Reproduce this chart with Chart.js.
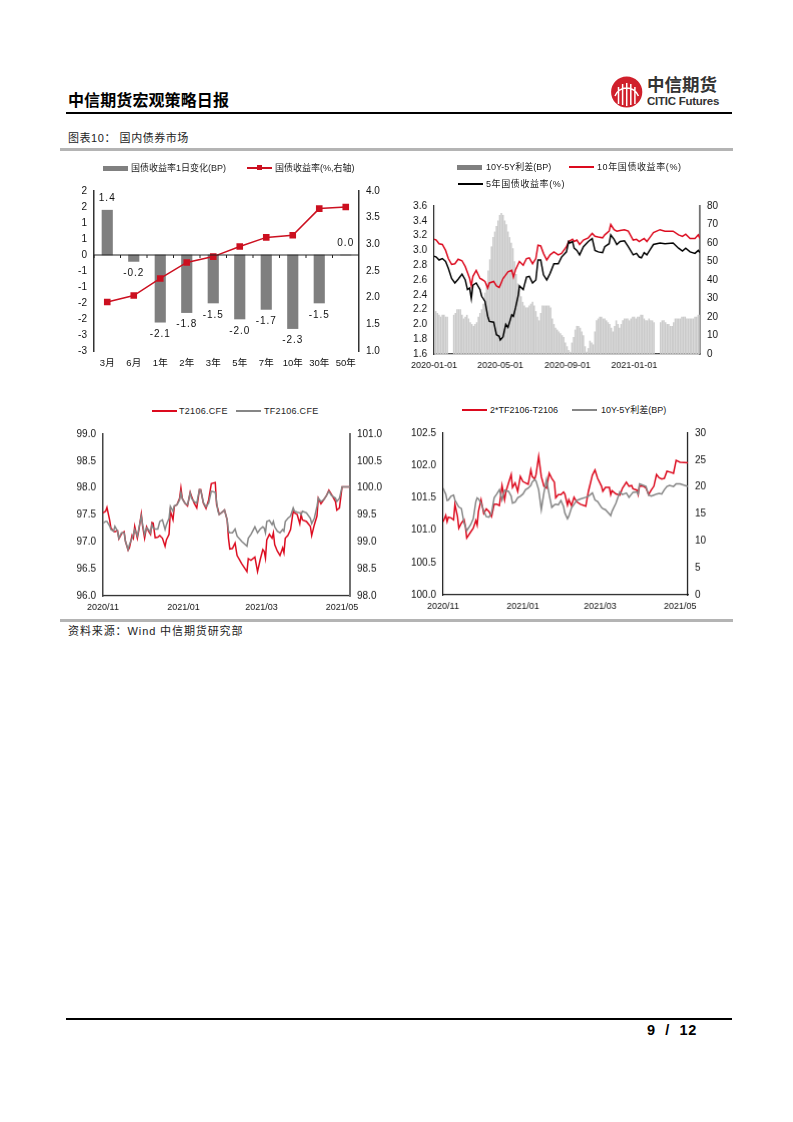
<!DOCTYPE html>
<html lang="zh">
<head>
<meta charset="utf-8">
<title>中信期货宏观策略日报</title>
<script src="https://cdn.jsdelivr.net/npm/chart.js@4"></script>
<style>
  html, body { margin: 0; padding: 0; background: #fff; }
  body { position: relative; width: 793px; height: 1122px; overflow: hidden;
         font-family: "Liberation Sans", "Noto Sans CJK SC", sans-serif; color: #000; }
  .abs { position: absolute; white-space: nowrap; }
  .rule { position: absolute; }
  canvas { position: absolute; }
  .lg { position: absolute; font-size: 9px; line-height: 12px; color: #222; white-space: nowrap; }
</style>
</head>
<body>
<div class="abs" style="left:68px;top:91px;font-size:16px;line-height:20px;font-weight:700;letter-spacing:.1px;">中信期货宏观策略日报</div>
<svg class="abs" style="left:609px;top:74px" width="36" height="36" viewBox="0 0 36 36">
  <circle cx="17.7" cy="18" r="15.6" fill="#d0202c"/>
  <path d="M6 22 A12.5 12.5 0 0 1 29.4 22 M9.5 13 V30 M25.9 13 V30 M13.6 10 V31 M21.8 10 V31 M17.7 9 V32" fill="none" stroke="#fff" stroke-width="1.5"/>
</svg>
<div class="abs" style="left:647px;top:74px;font-size:17.5px;line-height:22px;font-weight:700;color:#333;">中信期货</div>
<div class="abs" style="left:647px;top:95px;font-size:11.5px;line-height:13px;font-weight:700;color:#333;letter-spacing:-.25px;">CITIC Futures</div>
<div class="rule" style="left:66px;top:112px;width:666px;height:2px;background:#000;"></div>
<div class="abs" style="left:68px;top:131px;font-size:11px;line-height:14px;color:#222;letter-spacing:.55px;">图表10： 国内债券市场</div>
<div class="rule" style="left:60px;top:148px;width:673px;height:3px;background:#b4b4b4;"></div>
<div class="rule" style="left:60px;top:619px;width:673px;height:3px;background:#b4b4b4;"></div>
<div class="abs" style="left:68px;top:624px;font-size:11px;line-height:14px;color:#222;letter-spacing:.9px;">资料来源：Wind 中信期货研究部</div>
<div class="rule" style="left:66px;top:1018px;width:666px;height:2px;background:#000;"></div>
<div class="abs" style="left:647px;top:1022px;font-size:14.5px;line-height:17px;font-weight:700;word-spacing:5px;letter-spacing:.6px;">9 / 12</div>

<script>
// chart 1: yield curve
const tenors = ["3月", "6月", "1年", "2年", "3年", "5年", "7年", "10年", "30年", "50年"];
const yieldChange = [1.4, -0.2, -2.1, -1.8, -1.5, -2.0, -1.7, -2.3, -1.5, 0.0];
const yieldLevel = [1.92, 2.04, 2.36, 2.66, 2.77, 2.96, 3.13, 3.17, 3.67, 3.70];

// chart 2: 10y / 5y yields, x is days since 2020-01-01
const yieldDays = [0,4,9,15,21,26,32,38,44,51,57,61,65,68,71,77,84,87,93,98,101,109,114,119,121,126,131,135,142,145,149,154,156,163,169,174,180,186,190,195,200,206,212,219,227,233,242,246,
  248,253,256,261,266,273,282,289,294,300,308,312,320,323,329,334,340,348,355,364,370,375,379,384,389,395,401,413,422,437,447,454,460,468,477,483,486];
const tenYear = [3.15,3.14,3.09,3.08,3.00,2.89,2.81,2.82,2.88,2.86,2.78,2.70,2.62,2.52,2.65,2.73,2.62,2.61,2.58,2.49,2.56,2.58,2.52,2.50,2.53,2.62,2.67,2.71,2.73,2.64,2.74,2.82,2.85,2.80,2.89,2.90,2.82,2.89,3.07,3.06,2.96,2.87,2.94,2.98,2.94,2.96,3.05,3.12,
  3.13,3.15,3.12,3.14,3.08,3.14,3.17,3.23,3.19,3.18,3.17,3.21,3.26,3.35,3.28,3.26,3.27,3.28,3.26,3.14,3.15,3.12,3.14,3.16,3.12,3.18,3.24,3.28,3.26,3.26,3.21,3.19,3.22,3.16,3.16,3.21,3.16];
const fiveYear = [2.92,2.91,2.87,2.89,2.85,2.76,2.62,2.56,2.61,2.68,2.60,2.47,2.49,2.35,2.53,2.56,2.47,2.38,2.31,2.11,2.04,2.03,1.86,1.84,1.79,1.83,2.00,1.96,2.13,2.11,2.23,2.40,2.52,2.47,2.64,2.65,2.56,2.60,2.87,2.87,2.67,2.60,2.69,2.82,2.82,2.91,2.98,3.12,
  3.10,3.12,3.03,3.00,2.94,3.05,3.12,3.16,3.00,2.98,2.97,3.05,3.09,3.21,3.15,3.08,3.12,3.13,3.05,2.94,2.96,2.91,2.90,2.97,2.94,3.01,3.08,3.10,3.09,3.10,3.03,2.99,3.03,2.98,2.96,3.00,2.97];
// spread read every 3 days from 2020-01-01
const spreadBp = [23,23,22,21,20,21,21,20,20,0,0,0,21,22,24,24,24,21,19,20,21,19,17,16,15,16,17,20,22,24,27,33,38,45,51,58,63,66,69,72,75,76,75,72,70,66,63,60,57,50,43,38,35,31,28,26,25,25,26,27,28,26,23,20,18,22,26,26,26,26,26,25,19,16,14,13,12,11,10,9,6,4,2,1,6,9,13,15,15,14,12,10,4,1,3,7,6,5,12,18,19,20,20,19,19,18,17,16,14,12,15,18,16,14,16,18,19,19,19,18,19,20,20,19,20,20,21,21,19,18,18,19,18,18,17,0,0,0,17,18,18,17,16,16,15,15,17,19,19,19,19,20,20,20,19,19,19,19,19,20,20,21,21];

// chart 3: futures prices, x is days since 2020-11-01
const t2106Days = [0,2,3,5,6,8,9,11,12,14,16,17,19,20,22,23,24,26,27,29,30,31.5,33,34.5,36,37,38,39.5,41.5,43,45,47,48,50,51,53,54,56,58,59,60,62,64,66,67,69,71,73,74,76,78,80,82,85,86,87,88,90,92,94,95,96,
  98,100,101.5,105,109,110,112,115,117,119,121,122,123,124,126,128,129,130,132,134,136,137,138,140,142,144,145,147,149,150,151,154,157,158,160,162,163,165,167,169,171,173,176,177,179,181,187];
const t2106 = [97.54,97.57,97.64,97.41,97.26,97.20,97.19,97.21,97.06,97.15,97.19,97.01,96.85,96.89,97.12,97.07,97.29,97.07,97.20,97.52,97.29,97.07,97.28,97.20,97.14,97.36,97.35,97.08,97.09,97.12,97.07,96.92,97.04,97.14,97.57,97.41,97.66,97.69,97.81,98.00,97.81,97.72,97.67,97.92,97.85,97.72,97.63,97.97,97.97,97.72,97.62,97.78,98.08,98.10,97.69,97.61,97.51,97.55,97.59,97.41,97.07,96.87,
  96.88,96.98,96.75,96.60,96.45,96.69,96.66,96.72,96.45,96.67,96.86,96.83,96.70,97.04,97.14,97.07,97.17,96.95,96.83,96.75,96.89,96.80,97.07,97.12,97.23,97.57,97.54,97.51,97.34,97.51,97.41,97.38,97.29,97.12,97.32,97.48,97.81,97.71,97.78,97.85,97.96,97.88,97.75,97.59,97.63,98.02,98.02];
const tf2106 = [99.35,99.38,99.38,99.30,99.23,99.20,99.29,99.20,99.07,99.17,99.17,99.01,98.86,98.95,99.07,99.14,99.23,99.11,99.23,99.48,99.32,99.14,99.26,99.23,99.17,99.32,99.26,99.24,99.24,99.38,99.41,99.23,99.32,99.44,99.66,99.57,99.67,99.69,99.78,99.92,99.80,99.72,99.69,99.91,99.81,99.75,99.72,99.97,99.96,99.73,99.65,99.72,99.94,99.92,99.75,99.57,99.51,99.55,99.59,99.41,99.20,99.17,
  99.17,99.24,99.11,99.01,98.92,99.07,99.14,99.28,99.17,99.24,99.28,99.26,99.17,99.38,99.40,99.32,99.38,99.28,99.20,99.17,99.23,99.20,99.38,99.44,99.48,99.63,99.57,99.55,99.54,99.51,99.57,99.54,99.44,99.34,99.44,99.66,99.81,99.75,99.78,99.85,99.94,99.86,99.81,99.75,99.81,100.02,100.02];

// chart 4: basis vs spread
const basisDays = [0,1,2,3,4,6,8,9,11,12,14,16,17,18,21,23,25,26,27,29,31,33,35,37,39,41,43,45,47,48,50,52,53,55,57,59,61,63,65,67,68,70,71,73,75,77,79,81,83,85,86,88,90,92,
  93,95,96,98,100,102,105,109,111,114,116,118,121,122,124,127,128,129,132,135,137,140,142,144,145,148,149,150,153,155,157,159,161,163,165,167,169,171,173,176,178,181,187];
const basis = [101.13,101.18,101.23,101.13,101.20,101.19,101.16,101.40,101.21,101.03,101.11,101.16,101.06,100.88,100.97,101.03,101.15,101.08,101.29,101.47,101.26,101.33,101.29,101.21,101.40,101.40,101.38,101.69,101.47,101.60,101.73,101.86,101.66,101.73,101.60,101.83,101.75,101.73,101.71,101.93,101.83,101.79,101.86,102.14,101.83,101.68,101.65,101.88,101.80,101.74,101.50,101.55,101.55,101.59,
  101.56,101.39,101.47,101.38,101.51,101.44,101.40,101.37,101.60,101.85,101.93,101.80,101.68,101.60,101.66,101.66,101.55,101.61,101.56,101.54,101.65,101.74,101.68,101.69,101.64,101.62,101.55,101.68,101.68,101.65,101.55,101.62,101.68,101.86,101.81,101.79,101.80,101.91,101.90,101.88,102.08,102.05,102.04];
const spreadLine = [19.8,19.2,18.7,17.5,17.6,18.3,18.5,17.6,16.7,16.3,16.0,13.3,12.7,11.9,13.0,14.1,17.3,18.0,17.8,17.0,15.6,14.5,14.4,15.2,18.0,18.7,19.5,17.6,19.4,19.3,19.2,18.3,17.0,17.2,18.0,18.3,18.7,19.5,19.8,20.3,20.9,21.4,21.1,19.5,15.8,18.9,21.4,18.6,16.2,16.7,16.8,16.7,17.5,16.4,
  15.2,14.1,14.6,16.1,16.8,17.5,17.8,18.1,18.3,18.9,17.6,17.3,16.2,16.0,15.8,15.0,14.7,15.5,17.0,19.1,18.6,18.9,18.1,18.7,19.0,19.1,18.7,20.6,20.3,20.1,18.5,18.3,18.5,18.7,18.8,18.7,19.5,20.1,20.3,20.1,20.6,20.6,20.1];

// date axis ticks
const yieldTickDays = [0, 121, 244, 366];
const yieldTickLabels = ["2020-01-01", "2020-05-01", "2020-09-01", "2021-01-01"];
const futTickDays = [0, 61, 120, 181];
const futTickLabels = ["2020/11", "2021/01", "2021/03", "2021/05"];

const FONT = '"Liberation Sans", "Noto Sans CJK SC", sans-serif';
const RED = "#dc0a1e";
const GREY = "#868686";

const pairs = (xs, ys) => ys.map((y, i) => ({ x: xs[i], y }));

// puts a canvas on the page so the plot area lands on the given box
function frame(l, t, r, b) {
  const left = l - 40, top = t - 12, right = r + 45, bottom = b + 28;
  const canvas = document.createElement("canvas");
  canvas.style.left = left + "px";
  canvas.style.top = top + "px";
  canvas.style.width = (right - left) + "px";
  canvas.style.height = (bottom - top) + "px";
  canvas.width = right - left;
  canvas.height = bottom - top;
  document.body.appendChild(canvas);
  return { canvas, ctx: canvas.getContext("2d"), yLeftW: l - left, yRightW: right - r, xH: bottom - b, padTop: t - top };
}

function yAxis(f, side, min, max, step, color, width, labelFn) {
  return {
    type: "linear", position: side, min, max,
    afterFit: s => { s.width = side === "left" ? f.yLeftW : f.yRightW; },
    border: { display: true, color, width },
    grid: { display: false, drawOnChartArea: false, drawTicks: true, tickLength: 4, tickColor: color },
    ticks: { stepSize: step, color: "#111", padding: 3, font: { family: FONT, size: 10 }, autoSkip: false, includeBounds: true, callback: labelFn || (v => v.toFixed(1)) }
  };
}

function dateAxis(f, min, max, tickDays, tickLabels) {
  return {
    type: "linear", min, max, offset: false,
    afterFit: s => { s.height = f.xH; },
    afterBuildTicks: s => { s.ticks = tickDays.map(value => ({ value })); },
    border: { display: true, color: "#222", width: 1.2 },
    grid: { display: false, offset: false, drawOnChartArea: false, drawTicks: true, tickLength: 4, tickColor: "#222" },
    ticks: { color: "#111", padding: 2, maxRotation: 0, autoSkip: false, font: { family: FONT, size: 9 },
      callback: v => tickLabels[tickDays.indexOf(v)] }
  };
}

function baseOptions(f, scales) {
  return {
    responsive: false, animation: false, events: [],
    layout: { padding: { top: f.padTop, left: 0, right: 0, bottom: 0 } },
    plugins: { legend: { display: false }, tooltip: { enabled: false } },
    scales
  };
}

function lineSet(label, data, color, axis, order) {
  return { type: "line", label, data, borderColor: color, backgroundColor: color, borderWidth: 1.5, pointRadius: 0, tension: 0, yAxisID: axis, order };
}

// chart 1
const f1 = frame(93.5, 190.7, 359.2, 351);
const halfRound = v => (v === 0 ? "0" : String(Math.sign(v) * Math.round(Math.abs(v))));
const barLabels = {
  id: "barLabels",
  afterDatasetsDraw(chart) {
    const { ctx } = chart;
    const bars = chart.getDatasetMeta(1).data;
    ctx.save();
    ctx.font = "10px " + FONT;
    ctx.fillStyle = "#111";
    ctx.textAlign = "center";
    ctx.textBaseline = "middle";
    ctx.letterSpacing = "1px";
    bars.forEach((bar, i) => {
      const v = yieldChange[i];
      ctx.fillText(v.toFixed(1), bar.x, bar.y + (v < 0 ? 12 : -12));
    });
    // zero line with its tick marks
    const x = chart.scales.x, y0 = chart.scales.y.getPixelForValue(0);
    ctx.strokeStyle = "#222";
    ctx.lineWidth = 1;
    ctx.beginPath();
    ctx.moveTo(x.left, y0); ctx.lineTo(x.right, y0);
    const cell = (x.right - x.left) / tenors.length;
    tenors.forEach((_, i) => { ctx.moveTo(x.left + cell * i, y0); ctx.lineTo(x.left + cell * i, y0 + 3); });
    ctx.stroke();
    ctx.restore();
  }
};
new Chart(f1.ctx, {
  data: {
    labels: tenors,
    datasets: [
      { type: "line", label: "国债收益率(%,右轴)", data: yieldLevel, borderColor: "#cc1020", backgroundColor: "#cc1020", borderWidth: 1.5,
        pointStyle: "rect", pointRadius: 3.6, tension: 0, yAxisID: "y2", order: 1 },
      { type: "bar", label: "国债收益率1日变化(BP)", data: yieldChange, backgroundColor: "#7f7f7f", barThickness: 10.5, yAxisID: "y", order: 2 }
    ]
  },
  options: baseOptions(f1, {
    x: { type: "category", offset: true, afterFit: s => { s.height = f1.xH; },
      border: { display: false }, grid: { display: false, drawTicks: false },
      ticks: { color: "#111", padding: 7, maxRotation: 0, autoSkip: false, font: { family: FONT, size: 9.5 } } },
    y: yAxis(f1, "left", -3, 2, 0.5, "#333", 1.5, halfRound),
    y2: yAxis(f1, "right", 1, 4, 0.5, "#333", 1.5)
  }),
  plugins: [barLabels]
});

// chart 2
const f2 = frame(434.3, 205.7, 700, 354.3);
const spreadDays = spreadBp.map((_, i) => i * 3);
new Chart(f2.ctx, {
  data: {
    datasets: [
      lineSet("5年国债收益率(%)", pairs(yieldDays, fiveYear), "#000", "y", 1),
      lineSet("10年国债收益率(%)", pairs(yieldDays, tenYear), RED, "y", 2),
      { type: "bar", label: "10Y-5Y利差(BP)", data: pairs(spreadDays, spreadBp), backgroundColor: "#cacaca", barThickness: 0.9, yAxisID: "y2", order: 3 }
    ]
  },
  options: baseOptions(f2, {
    x: dateAxis(f2, 0, 486, yieldTickDays, yieldTickLabels),
    y: yAxis(f2, "left", 1.6, 3.6, 0.2, "#222", 1.2),
    y2: yAxis(f2, "right", 0, 80, 10, "#707070", 1.8, v => String(v))
  })
});

// chart 3
const f3 = frame(102.7, 434.3, 350.3, 596.3);
new Chart(f3.ctx, {
  data: {
    datasets: [
      lineSet("TF2106.CFE", pairs(t2106Days, tf2106), GREY, "y2", 1),
      lineSet("T2106.CFE", pairs(t2106Days, t2106), RED, "y", 2)
    ]
  },
  options: baseOptions(f3, {
    x: dateAxis(f3, 0, 187, futTickDays, futTickLabels),
    y: yAxis(f3, "left", 96, 99, 0.5, "#444", 1.5),
    y2: yAxis(f3, "right", 98, 101, 0.5, "#707070", 2)
  })
});

// chart 4
const f4 = frame(443.3, 433.3, 687.7, 595);
new Chart(f4.ctx, {
  data: {
    datasets: [
      lineSet("10Y-5Y利差(BP)", pairs(basisDays, spreadLine), GREY, "y2", 1),
      lineSet("2*TF2106-T2106", pairs(basisDays, basis), RED, "y", 2)
    ]
  },
  options: baseOptions(f4, {
    x: dateAxis(f4, 0, 187, futTickDays, futTickLabels),
    y: yAxis(f4, "left", 100, 102.5, 0.5, "#111", 1.2),
    y2: yAxis(f4, "right", 0, 30, 5, "#111", 1.2, v => String(v))
  })
});

// legends
function legendItem(x, y, kind, color, text, textX, spacing) {
  const mark = document.createElement("div");
  mark.style.position = "absolute";
  mark.style.left = x + "px";
  mark.style.width = "25px";
  mark.style.background = color;
  if (kind === "bar") { mark.style.top = Math.round(y - 2.5) + "px"; mark.style.height = "5px"; }
  else { mark.style.top = Math.round(y - 1) + "px"; mark.style.height = "2px"; }
  document.body.appendChild(mark);
  if (kind === "marker") {
    const sq = document.createElement("div");
    sq.style.cssText = `position:absolute;left:${x + 10}px;top:${y - 3}px;width:5px;height:5px;background:${color};`;
    document.body.appendChild(sq);
  }
  const label = document.createElement("div");
  label.className = "lg";
  label.textContent = text;
  label.style.left = textX + "px";
  label.style.top = (y - 6) + "px";
  if (spacing) label.style.letterSpacing = spacing + "px";
  document.body.appendChild(label);
}
legendItem(103, 168, "bar", "#808080", "国债收益率1日变化(BP)", 131);
legendItem(247, 168, "marker", "#cc1020", "国债收益率(%,右轴)", 275);
legendItem(457, 167, "bar", "#808080", "10Y-5Y利差(BP)", 486);
legendItem(569, 167, "line", RED, "10年国债收益率(%)", 597, 0.6);
legendItem(458, 184, "line", "#000", "5年国债收益率(%)", 486, 0.6);
legendItem(152, 411, "line", RED, "T2106.CFE", 179, 0.3);
legendItem(236, 411, "line", GREY, "TF2106.CFE", 264, 0.3);
legendItem(462, 410, "line", RED, "2*TF2106-T2106", 490);
legendItem(572, 410, "line", GREY, "10Y-5Y利差(BP)", 601);
</script>
</body>
</html>
